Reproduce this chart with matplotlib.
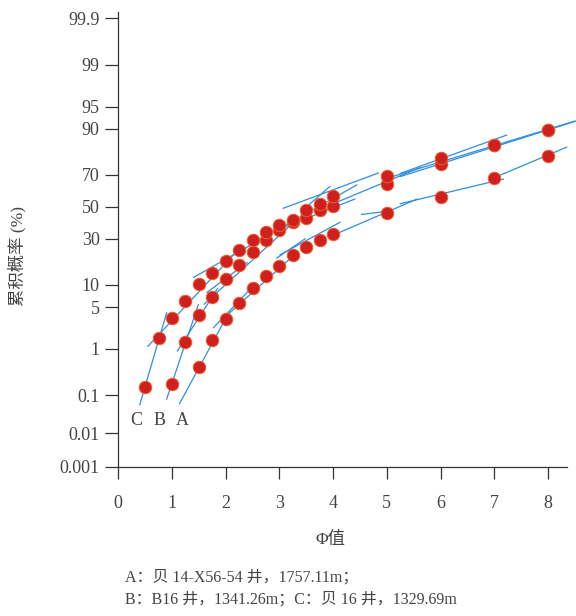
import numpy as np
import matplotlib.pyplot as plt
from statistics import NormalDist

# 累积概率曲线（概率坐标）
phi_a = [1.5, 1.75, 2.0, 2.25, 2.5, 2.75, 3.0, 3.25, 3.5, 3.75, 4.0, 5, 6, 7, 8]
cum_a = [0.43, 1.42, 3.3, 5.7, 9.1, 12.9, 16.5, 21.2, 25.4, 29.0, 32.8, 46.2, 56.6, 67.9, 79.7]

phi_b = [1.0, 1.25, 1.5, 1.75, 2.0, 2.25, 2.5, 2.75, 3.0, 3.25, 3.5, 3.75, 4.0, 5, 6, 7, 8]
cum_b = [0.185, 1.33, 3.8, 7.0, 11.7, 16.8, 22.8, 29.0, 35.2, 40.3, 42.5, 47.6, 50.6, 64.5, 76.1, 84.6, 89.7]

phi_c = [0.5, 0.75, 1.0, 1.25, 1.5, 1.75, 2.0, 2.25, 2.5, 2.75, 3.0, 3.25, 3.5, 3.75, 4.0, 5, 6, 7, 8]
cum_c = [0.156, 1.54, 3.34, 6.2, 10.2, 14.0, 18.8, 23.8, 29.0, 34.0, 38.3, 41.5, 47.9, 51.8, 57.0, 69.4, 78.9, 84.6, 89.7]

# 拟合直线段 (phi0, p0, phi1, p1)
seg_a = [(1.14, 0.062, 2.02, 3.6), (1.77, 2.35, 2.42, 8.3), (2.0, 3.6, 3.3, 22.0),
         (2.95, 20.0, 3.48, 30.0), (3.01, 21.5, 4.13, 40.0), (4.07, 33.0, 5.56, 55.0),
         (4.53, 45.0, 5.0, 47.0), (5.25, 52.0, 7.17, 67.5), (7.05, 69.0, 8.35, 83.6)]
seg_b = [(0.90, 0.08, 1.49, 5.4), (1.1, 0.9, 1.85, 9.0), (1.6, 5.5, 3.3, 41.0),
         (1.65, 8.0, 2.4, 18.0), (3.1, 37.0, 4.4, 55.0), (4.07, 53.0, 5.62, 74.0),
         (5.25, 69.0, 8.52, 92.0)]
seg_c = [(0.40, 0.058, 0.90, 4.1), (0.55, 1.1, 2.3, 26.0), (1.40, 12.3, 4.44, 64.0),
         (3.44, 48.0, 3.94, 63.0), (3.07, 49.0, 4.84, 71.0), (5.25, 70.8, 7.23, 88.0),
         (5.0, 68.0, 8.5, 92.0)]

yticks = [0.001, 0.01, 0.1, 1, 5, 10, 30, 50, 70, 90, 95, 99, 99.9]
ytick_labels = ['0.001', '0.01', '0.1', '1', '5', '10', '30', '50', '70', '90', '95', '99', '99.9']

nd = NormalDist()
_ppf = np.vectorize(nd.inv_cdf, otypes=[float])
_cdf = np.vectorize(nd.cdf, otypes=[float])


def forward(p):
    p = np.clip(np.asarray(p, dtype=float), 1e-7, 100 - 1e-7)
    return _ppf(p / 100.0)


def inverse(z):
    return _cdf(np.asarray(z, dtype=float)) * 100.0


serif = ['Liberation Serif', 'Noto Sans CJK SC']
txt_color = '#444444'
line_color = '#2f8ee0'

fig = plt.figure(figsize=(5.76, 6.16), dpi=100)
ax = fig.add_axes([0.2054, 0.2424, 0.7785, 0.738])
ax.set_yscale('function', functions=(forward, inverse))

for segs in (seg_a, seg_b, seg_c):
    for x0, p0, x1, p1 in segs:
        ax.plot([x0, x1], [p0, p1], color=line_color, lw=0.9, zorder=2, clip_on=False)

for xs, ys in ((phi_a, cum_a), (phi_b, cum_b), (phi_c, cum_c)):
    ax.plot(xs, ys, 'o', ms=9, mfc='#d01f1f', mec='#e8602a', mew=0.7, zorder=3, clip_on=False)

ax.set_xlim(0, 8.35)
ax.set_ylim(0.001, 99.93)
ax.set_yticks(yticks)
ax.set_yticklabels(ytick_labels)
ax.set_xticks(range(9))
ax.minorticks_off()

for s in ('top', 'right'):
    ax.spines[s].set_visible(False)
for s in ('left', 'bottom'):
    ax.spines[s].set_color('#333333')
    ax.spines[s].set_linewidth(0.9)

ax.tick_params(axis='y', length=9.4, width=0.9, pad=4, colors='#333333', labelcolor=txt_color, labelsize=13)
ax.tick_params(axis='x', length=8.6, width=0.9, pad=12, colors='#333333', labelcolor=txt_color, labelsize=13)
for lab in ax.get_xticklabels() + ax.get_yticklabels():
    lab.set_family(serif)

for name, xp in (('C', 0.34), ('B', 0.77), ('A', 1.2)):
    ax.text(xp, 0.0224, name, ha='center', va='center', fontsize=13,
            family=serif, color=txt_color)

fig.text(17 / 576, 1 - 256 / 616, '累积概率 (%)', rotation=90, ha='center', va='center',
         fontsize=12.5, family=serif, color=txt_color)
fig.text(330 / 576, 1 - 540 / 616, 'Φ值', ha='center', va='center',
         fontsize=12.5, family=serif, color=txt_color)
fig.text(125 / 576, 1 - 577 / 616, 'A：贝 14-X56-54 井，1757.11m；', ha='left', va='center',
         fontsize=11.5, family=serif, color=txt_color)
fig.text(125 / 576, 1 - 599 / 616, 'B：B16 井，1341.26m；C：贝 16 井，1329.69m', ha='left',
         va='center', fontsize=11.5, family=serif, color=txt_color)

fig.savefig('out.png', dpi=100)
